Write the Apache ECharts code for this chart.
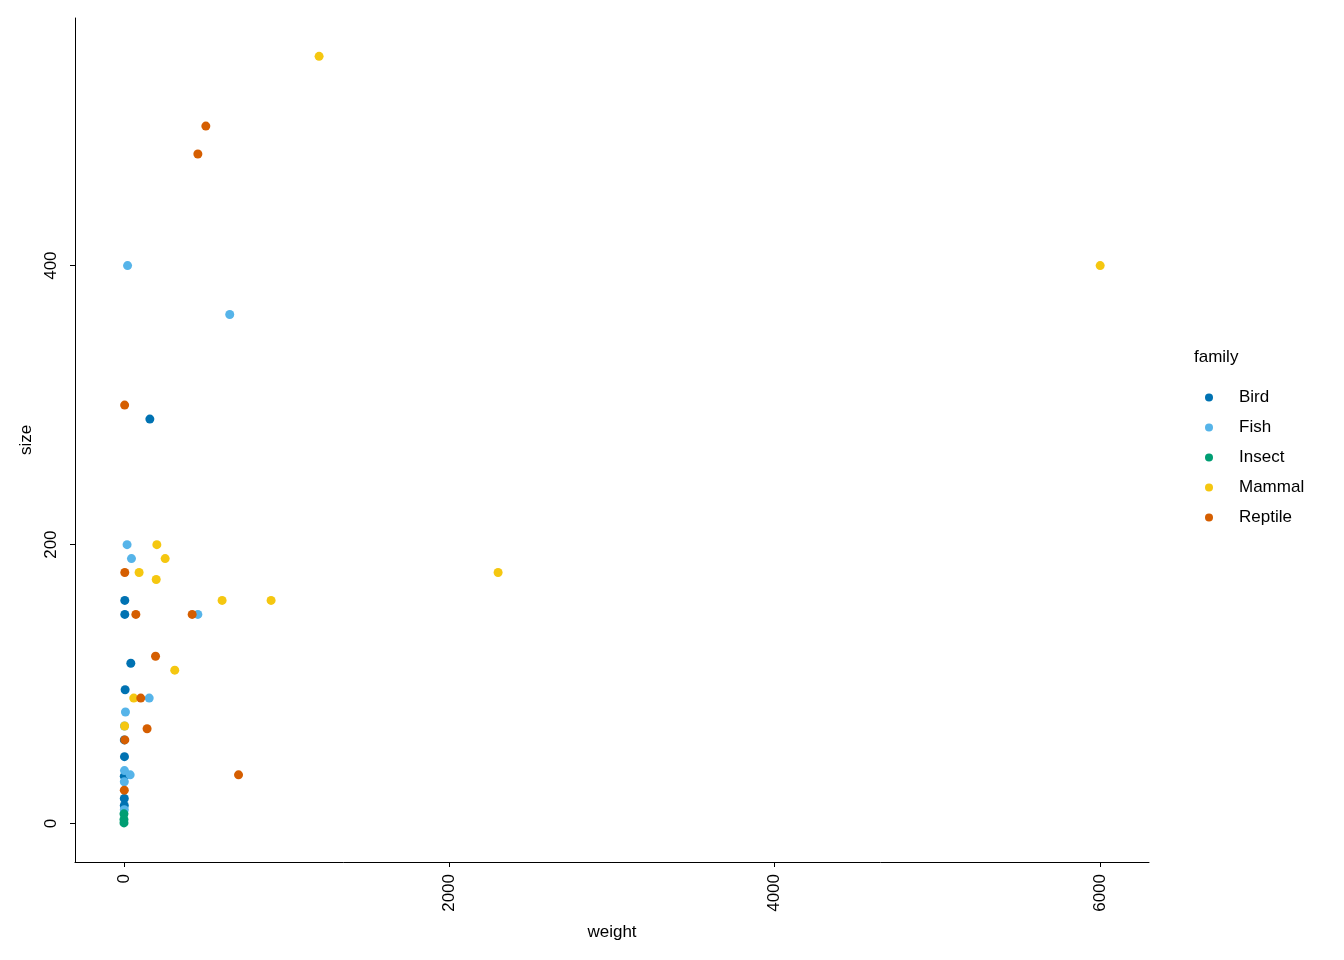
<!DOCTYPE html>
<html>
<head>
<meta charset="utf-8">
<script src="https://cdn.jsdelivr.net/npm/echarts@6/dist/echarts.min.js"></script>
<style>html,body{margin:0;padding:0;background:#fff}#c{width:1344px;height:960px}</style>
</head>
<body>
<div id="c"></div>
<script>
// [weight, size] per family
const families = ['Bird', 'Fish', 'Insect', 'Mammal', 'Reptile'];
const bird = [[160, 290], [6, 160], [6, 150], [43, 115], [8, 96], [3, 60], [4, 48], [3, 34], [3, 18], [3, 13]];
const fish = [[23, 400], [651, 365], [20, 200], [47, 190], [455, 150], [156, 90], [10, 80], [4, 70], [4, 38], [39, 35], [3, 30], [3, 10]];
const insect = [[1, 7], [1, 3], [1, 0.5]];
const mammal = [[1200, 550], [6000, 400], [2300, 180], [203, 200], [254, 190], [94, 180], [199, 175], [604, 160], [905, 160], [313, 110], [61, 90], [5, 70]];
const reptile = [[504, 500], [455, 480], [5, 300], [6, 180], [74, 150], [420, 150], [195, 120], [104, 90], [143, 68], [6, 60], [705, 35], [3, 24]];
const xTicks = [0, 2000, 4000, 6000];
const yTicks = [0, 200, 400];

const colors = ['#0072B2', '#56B4E9', '#009E73', '#F5C710', '#D55E00'];
const seriesData = [bird, fish, insect, mammal, reptile];
const FONT = 'Liberation Sans, Arial, sans-serif';

const chart = echarts.init(document.getElementById('c'), null, {renderer: 'canvas'});
chart.setOption({
  animation: false,
  backgroundColor: '#fff',
  color: colors,
  grid: {left: 75, right: 195, top: 18, bottom: 98, containLabel: false},
  xAxis: {
    type: 'value', min: -300, max: 6300,
    name: 'weight', nameLocation: 'middle', nameGap: 62,
    nameTextStyle: {fontFamily: FONT, fontSize: 17, color: '#000'},
    axisLine: {onZero: false, lineStyle: {color: '#000', width: 1}},
    axisTick: {show: true, length: 5, customValues: xTicks, lineStyle: {color: '#000'}},
    axisLabel: {customValues: xTicks, rotate: 90, margin: 12, fontFamily: FONT, fontSize: 17, color: '#000',
      formatter: v => String(v)},
    splitLine: {show: false}
  },
  yAxis: {
    type: 'value', min: -27.5, max: 577.5,
    name: 'size', nameLocation: 'middle', nameGap: 38, nameRotate: 90,
    nameTextStyle: {fontFamily: FONT, fontSize: 17, color: '#000'},
    axisLine: {onZero: false, lineStyle: {color: '#000', width: 1}},
    axisTick: {show: true, length: 5, customValues: yTicks, lineStyle: {color: '#000'}},
    axisLabel: {customValues: yTicks, rotate: 90, margin: 15, fontFamily: FONT, fontSize: 17, color: '#000',
      formatter: v => String(v)},
    splitLine: {show: false}
  },
  legend: {
    orient: 'vertical', left: 1200, top: 384,
    itemWidth: 8, itemHeight: 8, itemGap: 13, icon: 'circle',
    textStyle: {fontFamily: FONT, fontSize: 17, color: '#000', padding: [0, 0, 0, 21]},
    data: families
  },
  graphic: [{
    type: 'text', left: 1194, top: 349,
    style: {text: 'family', font: '17px ' + FONT, fill: '#000'}
  }],
  series: families.map((f, i) => ({
    name: f, type: 'scatter', symbol: 'circle', symbolSize: 9,
    data: seriesData[i],
    itemStyle: {color: colors[i], opacity: 1}
  }))
});
</script>
</body>
</html>
